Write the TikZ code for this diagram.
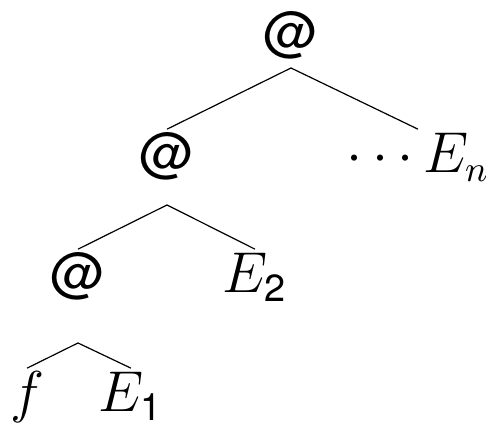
\documentclass[tikz,border=0pt]{standalone}
\usepackage{amsmath}
\usepackage{fontspec}
\setmainfont{TeX Gyre Heros}
\tikzset{
term/.style={
  inner sep=0pt,
  text height=10.75pt,
  text depth=3pt,
  anchor=base},
branch/.style={draw, line width=0.3pt}
}

\begin{document}
\begin{tikzpicture}[x=0.25pt,y=-0.25pt,font=\fontsize{13.5}{16}\selectfont]
    \useasboundingbox (0,0) rectangle (486,425);
    \node [term] (app1) at (291,52) {@};
    \node [term] (app2) at (167,173) {@};
    \node [term] (en) at (418,173) {$\cdots E_n$};
    \node [term] (app3) at (78,293) {@};
    \node [term] (e2) at (255,293) {$E_{\text{2}}$};
    \node [term] (f) at (27,412) {$f$};
    \node [term] (e1) at (131,412) {$E_{\text{1}}$};
    \coordinate (fork1) at ([yshift=-4pt]app1.base);
    \coordinate (fork2) at ([yshift=-8pt]app2.base);
    \coordinate (fork3) at ([yshift=-12.5pt]app3.base);
    \path [branch] (fork1) -- (app2.north);
    \path [branch] (fork1) -- (en.north);
    \path [branch] (fork2) -- (app3.north);
    \path [branch] (fork2) -- (e2.north);
    \path [branch] (fork3) -- (f.north);
    \path [branch] (fork3) -- (e1.north);
\end{tikzpicture}
\end{document}
